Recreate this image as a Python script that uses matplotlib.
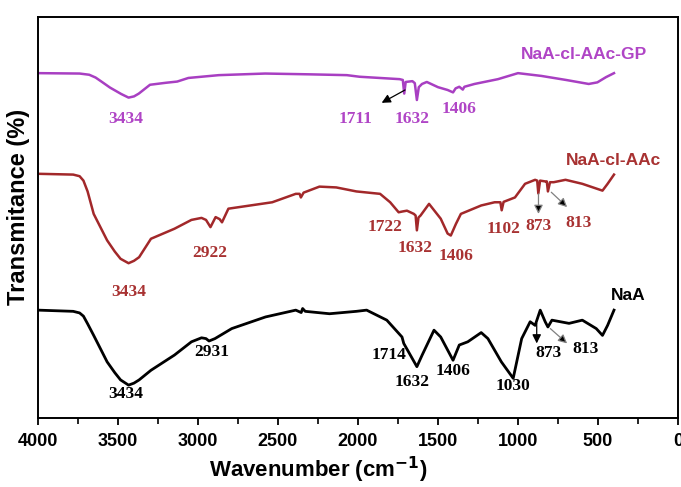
import numpy as np
import matplotlib
matplotlib.use("Agg")
from matplotlib import pyplot as plt
from matplotlib.ticker import MultipleLocator

# ---------------- data (arbitrary transmittance units) ----------------
# NaA-cl-AAc-GP (top curve)
wn_gp = [4000, 3740, 3680, 3640, 3600, 3550, 3480, 3434, 3400, 3370,
         3300, 3200, 3130, 3060, 2870, 2580, 2300, 2070, 1990, 1740,
         1720, 1711, 1702, 1660, 1645, 1632, 1620, 1600, 1570, 1500,
         1440, 1406, 1390, 1367, 1345, 1335, 1272, 1125, 1000, 853,
         700, 558, 504, 450, 400]
t_gp = [86.0, 85.9, 85.6, 84.9, 83.8, 82.4, 80.8, 79.9, 80.2, 80.9,
        83.1, 83.6, 83.9, 84.8, 85.5, 85.9, 85.7, 85.5, 85.1, 84.5,
        84.3, 80.9, 83.8, 84.0, 83.5, 79.3, 82.5, 83.3, 83.8, 82.5,
        81.8, 81.2, 82.2, 82.6, 81.9, 82.6, 83.3, 84.5, 86.0, 85.3,
        84.3, 83.3, 83.7, 85.0, 86.0]

# NaA-cl-AAc (middle curve)
wn_aac = [4000, 3780, 3740, 3716, 3690, 3652, 3568, 3520, 3484, 3434,
          3400, 3368, 3294, 3147, 3041, 2978, 2950, 2922, 2890, 2865,
          2850, 2810, 2536, 2389, 2365, 2357, 2340, 2241, 2136, 2010,
          1862, 1799, 1746, 1722, 1694, 1651, 1640, 1632, 1622, 1609,
          1556, 1483, 1440, 1420, 1388, 1357, 1230, 1146, 1110, 1102,
          1090, 1019, 956, 893, 880, 873, 862, 830, 820, 813,
          800, 777, 703, 598, 472, 440, 400]
t_aac = [60.9, 60.7, 60.3, 59.2, 56.5, 50.9, 44.3, 41.5, 39.7, 38.6,
         39.2, 40.1, 44.7, 47.2, 49.4, 49.9, 49.4, 47.6, 50.1, 49.6,
         48.8, 52.2, 53.8, 55.9, 55.9, 55.0, 56.2, 57.7, 57.5, 56.5,
         55.9, 53.8, 51.3, 51.5, 51.7, 50.9, 50.5, 46.8, 50.0, 50.5,
         53.4, 49.7, 46.0, 45.5, 48.4, 50.9, 53.0, 53.8, 53.8, 51.8,
         53.9, 55.0, 58.4, 59.4, 59.2, 56.0, 59.2, 59.0, 59.0, 56.5,
         58.8, 58.8, 59.4, 58.4, 56.7, 58.4, 60.7]

# NaA (bottom curve)
wn_naa = [4000, 3780, 3740, 3716, 3690, 3652, 3568, 3520, 3484, 3434,
          3400, 3368, 3294, 3147, 3041, 2978, 2950, 2931, 2894, 2789,
          2578, 2389, 2355, 2346, 2330, 2178, 2010, 1946, 1820, 1725,
          1714, 1632, 1599, 1525, 1483, 1406, 1367, 1314, 1230, 1188,
          1104, 1030, 977, 924, 893, 861, 830, 813, 788, 681,
          598, 511, 472, 440, 400]
t_naa = [26.9, 26.6, 26.2, 25.4, 23.5, 20.6, 14.0, 11.3, 9.5, 8.2,
         8.7, 9.5, 11.9, 15.7, 19.0, 20.0, 19.8, 19.2, 19.8, 22.3,
         25.2, 26.9, 26.3, 27.3, 26.6, 26.0, 26.6, 26.9, 24.4, 20.2,
         18.6, 12.8, 15.7, 21.9, 20.2, 14.4, 18.2, 19.0, 21.3, 19.8,
         14.0, 9.9, 19.8, 24.0, 23.1, 26.9, 24.0, 22.7, 24.4, 23.6,
         24.4, 22.3, 20.6, 23.1, 26.9]

# peak labels: (text, x, y)
labels_gp = [("3434", 3452, 74.6), ("1711", 2016, 74.6),
             ("1632", 1662, 74.6), ("1406", 1371, 77.1)]
labels_aac = [("3434", 3431, 31.3), ("2922", 2926, 41.1), ("1722", 1831, 47.6),
              ("1632", 1641, 42.5), ("1406", 1388, 40.3), ("1102", 1093, 47.2),
              ("873", 872, 47.8), ("813", 619, 48.6)]
labels_naa = [("3434", 3452, 6.1), ("2931", 2915, 16.5), ("1714", 1809, 15.7),
              ("1632", 1662, 8.9), ("1406", 1409, 11.7), ("1030", 1030, 8.0),
              ("873", 809, 16.1), ("813", 577, 17.3)]

# arrows: (tail x, tail y, head x, head y, line colour)
arrows = [(1706, 81.8, 1852, 78.6, "black"),
          (872, 55.9, 872, 50.9, "gray"),
          (792, 56.3, 693, 52.6, "gray"),
          (883, 23.6, 883, 18.6, "black"),
          (798, 22.3, 693, 18.6, "gray")]

# series names: (text, x, y)
names = [("NaA-cl-AAc-GP", 585, 90.6), ("NaA-cl-AAc", 404, 64.2), ("NaA", 314, 30.6)]

col_gp = "#A83FC2"
col_aac = "#A2282A"
col_naa = "black"
txt_gp = "#B045C6"
txt_aac = "#A83232"

# ---------------- figure ----------------
fig = plt.figure(figsize=(6.81, 4.87), dpi=100)
ax = fig.add_axes([38 / 681, 69 / 487, 640 / 681, 401 / 487])

ax.plot(wn_gp, t_gp, color=col_gp, lw=1.8)
ax.plot(wn_aac, t_aac, color=col_aac, lw=1.8)
ax.plot(wn_naa, t_naa, color=col_naa, lw=2.0)

serif = dict(family="Liberation Serif", weight="bold", size=12.5, ha="center", va="center")
for txt, x, y in labels_gp:
    ax.text(x, y, txt, color=txt_gp, **serif)
for txt, x, y in labels_aac:
    ax.text(x, y, txt, color=txt_aac, **serif)
for txt, x, y in labels_naa:
    ax.text(x, y, txt, color="black", **serif)

for x0, y0, x1, y1, c in arrows:
    ax.annotate("", xy=(x1, y1), xytext=(x0, y0),
                arrowprops=dict(arrowstyle="-|>", ec=c, fc="black", lw=0.9,
                                mutation_scale=13, shrinkA=0, shrinkB=0))

name_colors = [txt_gp, txt_aac, "black"]
for (txt, x, y), c in zip(names, name_colors):
    ax.text(x, y, txt, color=c, family="Liberation Sans", weight="bold",
            size=12.5, ha="center", va="center")

ax.set_xlim(4000, 0)
ax.set_ylim(0, 100)
ax.set_yticks([])
ax.xaxis.set_major_locator(MultipleLocator(500))
ax.xaxis.set_minor_locator(MultipleLocator(250))
ax.tick_params(axis="x", which="major", direction="out", length=5, width=1.3,
               labelsize=13, pad=6)
ax.tick_params(axis="x", which="minor", direction="out", length=4, width=1.2)
for lab in ax.get_xticklabels():
    lab.set_family("Liberation Sans")
    lab.set_weight("bold")
for sp in ax.spines.values():
    sp.set_linewidth(1.4)

ax.set_xlabel("Wavenumber (cm$^{\\mathbf{-1}}$)", family="Liberation Sans",
              weight="bold", size=16, va="center")
ax.xaxis.set_label_coords(0.4375, -0.13)
ax.set_ylabel("Transmitance (%)", family="Liberation Sans", weight="bold",
              size=17, va="center")
ax.yaxis.set_label_coords(-0.031, 0.526)

fig.savefig("out.png", dpi=100)
